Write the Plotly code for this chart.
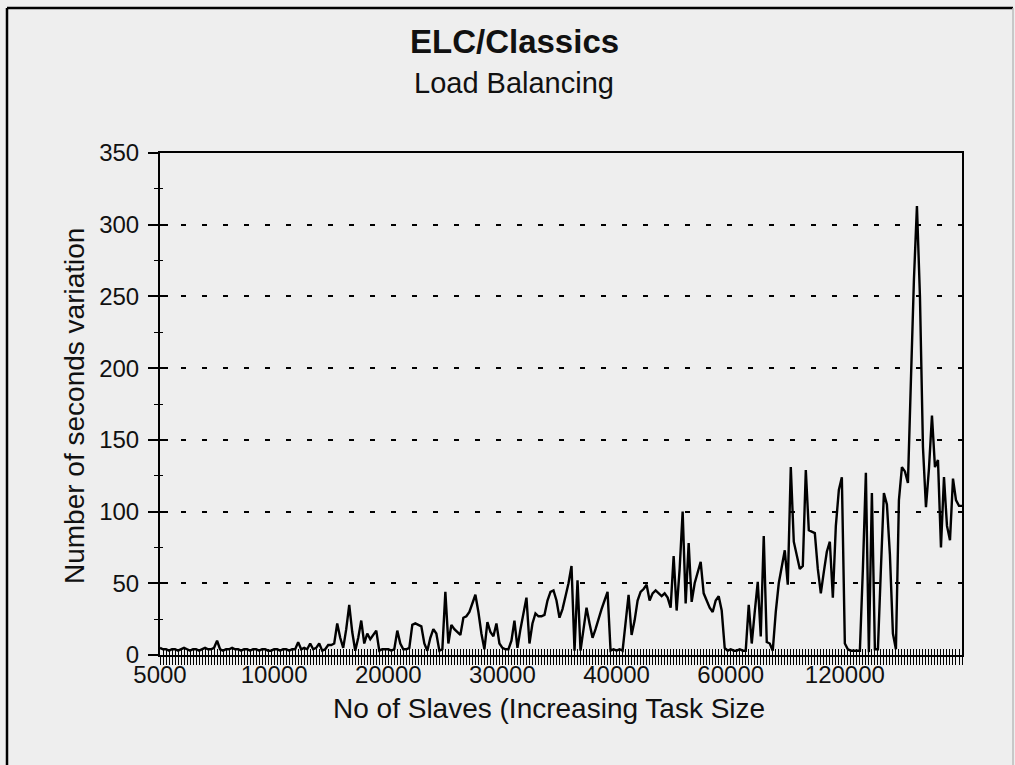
import plotly.graph_objects as go

# ---------------- data ----------------
tick_labels = ["5000", "10000", "20000", "30000", "40000", "60000", "120000"]
label_step = 38

values = [
    5, 4, 4, 3, 4, 4, 3, 4, 5, 4, 3, 4, 4, 3, 4, 5, 4, 4, 5,
    10, 4,
    3, 4, 4, 5, 4, 4, 3, 4, 4, 3, 4, 4, 3, 4, 4, 3, 3, 4, 4, 3, 4, 4, 3, 4, 4,
    9, 4, 5, 4, 8, 4, 5, 8, 3, 4, 7, 7, 8, 22, 12, 5, 18, 35, 16, 3,
    12, 24, 8, 15, 11, 14, 17, 3, 4, 4, 4, 3, 4, 17, 8, 4, 4, 5,
    21, 22, 21, 20, 8, 3, 12, 18, 15, 3, 4, 44, 8, 21, 18, 16, 14,
    26, 27, 30, 36, 42, 30, 15, 4, 23, 16, 13, 22, 8, 5, 4, 4, 10,
    24, 5, 18, 30, 40, 8, 22, 29, 27, 27, 28, 38, 44, 45, 38, 26,
    32, 41, 50, 62, 3, 52, 3, 18, 33, 22, 12, 18, 26, 32, 38, 44,
    3, 4, 3, 4, 3, 25, 42, 14, 24, 38, 44, 46, 49, 38, 43, 45, 43,
    41, 43, 40, 33, 69, 31, 60, 100, 36, 78, 37, 50, 58, 65, 43, 38,
    33, 30, 38, 41, 31, 5, 3, 4, 3, 3, 4, 3, 3, 35, 8, 30, 51, 13, 83,
    9, 8, 3, 30, 50, 62, 73, 49, 131, 79, 70, 60, 62, 129, 87, 86, 85,
    60, 43, 58, 72, 79, 40, 90, 115, 124, 8, 4, 3, 3, 3, 3, 60, 127,
    2, 113, 4, 4, 60, 113, 105, 70, 15, 4, 108, 131, 128, 120, 192,
    262, 313, 250, 145, 103, 130, 167, 131, 136, 75, 124, 90, 80, 123,
    108, 104, 104,
]

y_ticks = [0, 50, 100, 150, 200, 250, 300, 350]

# ---------------- layout geometry ----------------
W, H = 1015, 765
L, R, T, B = 160, 53, 153, 110
PW = W - L - R
PH = H - T - B


def px_x(px):
    return (px - L) / PW


def px_y(py):
    return (H - B - py) / PH


n = len(values)
x_idx = list(range(n))
ticktext = []
for i in x_idx:
    k = i // label_step
    if i % label_step == 0 and k < len(tick_labels):
        ticktext.append(tick_labels[k])
    else:
        ticktext.append("")

FONT = "Liberation Sans, Arial, Helvetica, sans-serif"
BG = "#eeeeee"

fig = go.Figure()
fig.add_trace(go.Scatter(
    x=x_idx, y=values, mode="lines",
    line=dict(color="black", width=2.4),
    showlegend=False, hoverinfo="skip",
))
# invisible helper trace so the overlay axes (inside tick halves) are drawn
fig.add_trace(go.Scatter(
    x=[0], y=[0], xaxis="x2", yaxis="y2", mode="markers",
    marker=dict(opacity=0), showlegend=False, hoverinfo="skip",
))

fig.update_layout(
    width=W, height=H,
    margin=dict(l=L, r=R, t=T, b=B),
    paper_bgcolor=BG, plot_bgcolor=BG,
    font=dict(family=FONT, color="#111111"),
    xaxis=dict(
        range=[0, n - 1], tickmode="array", tickvals=x_idx, ticktext=ticktext,
        ticks="outside", ticklen=8, tickwidth=1.3, tickcolor="black",
        showline=True, linewidth=2, linecolor="black", mirror=True,
        showgrid=False, zeroline=False, tickangle=0,
        tickfont=dict(size=24, color="#111111"),
        ticklabelstandoff=-11,
    ),
    xaxis2=dict(
        overlaying="x", anchor="y", side="bottom",
        range=[0, n - 1], tickmode="array", tickvals=x_idx,
        ticks="inside", ticklen=6, tickwidth=1.3, tickcolor="black",
        showticklabels=False, showline=False, showgrid=False, zeroline=False,
    ),
    yaxis=dict(
        range=[0, 350], tickmode="array", tickvals=y_ticks,
        ticktext=[str(v) for v in y_ticks],
        ticks="outside", ticklen=10, tickwidth=1.5, tickcolor="black",
        showline=True, linewidth=2, linecolor="black", mirror=True,
        showgrid=True, gridcolor="black", gridwidth=2, griddash="5px,16px",
        zeroline=False,
        minor=dict(dtick=25, tick0=0, ticks="outside", ticklen=4,
                   tickwidth=1.2, tickcolor="black", showgrid=False),
        tickfont=dict(size=24, color="#111111"),
        ticklabelstandoff=4,
    ),
    yaxis2=dict(
        overlaying="y", anchor="x", side="left",
        range=[0, 350], tickmode="array", tickvals=y_ticks,
        ticks="inside", ticklen=8, tickwidth=1.5, tickcolor="black",
        minor=dict(dtick=25, tick0=0, ticks="inside", ticklen=3,
                   tickwidth=1.2, tickcolor="black", showgrid=False),
        showticklabels=False, showline=False, showgrid=False, zeroline=False,
    ),
)

annotations = [
    dict(text="<b>ELC/Classics</b>", x=px_x(514), y=px_y(42), size=33),
    dict(text="Load Balancing", x=px_x(514), y=px_y(83), size=29),
    dict(text="No of Slaves (Increasing Task Size", x=px_x(549), y=px_y(708), size=28),
]
for a in annotations:
    fig.add_annotation(
        text=a["text"], x=a["x"], y=a["y"], xref="paper", yref="paper",
        xanchor="center", yanchor="middle", showarrow=False,
        font=dict(size=a["size"], family=FONT, color="#111111"),
    )
fig.add_annotation(
    text="Number of seconds variation", x=px_x(74), y=px_y(406),
    xref="paper", yref="paper", xanchor="center", yanchor="middle",
    textangle=-90, showarrow=False,
    font=dict(size=28, family=FONT, color="#111111"),
)

# outer frame of the figure
frame = [
    (7, 8, 7, 775, "black", 2.5),
    (7, 8, 1013, 8, "black", 2.5),
    (1013, 8, 1013, 775, "#bbbbbb", 1.5),
]
for x0, y0, x1, y1, col, w in frame:
    fig.add_shape(type="line", xref="paper", yref="paper",
                  x0=px_x(x0), y0=px_y(y0), x1=px_x(x1), y1=px_y(y1),
                  line=dict(color=col, width=w))

fig.write_html("out.html")
